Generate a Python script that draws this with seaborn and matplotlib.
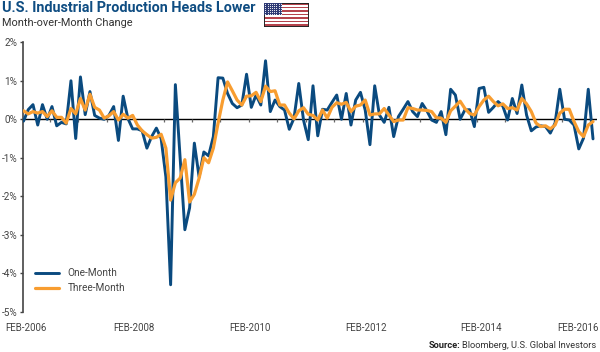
import numpy as np
import pandas as pd
import matplotlib
matplotlib.use("Agg")
import matplotlib.pyplot as plt
import matplotlib.transforms as mtrans
import seaborn as sns

one_month = [-0.05,0.25,0.38,-0.15,0.38,0.0,0.33,-0.17,-0.08,-0.12,1.0,-0.5,1.1,0.12,0.72,0.1,0.03,0.0,0.1,0.33,
 -0.55,0.6,0.02,-0.25,-0.25,-0.3,-0.75,-0.45,-0.23,-0.5,-1.5,-4.3,0.9,-1.0,-2.87,-2.3,-0.62,-1.5,-0.85,-0.95,
 -0.45,1.08,1.07,0.67,0.41,0.3,0.37,1.17,0.31,0.63,0.37,1.52,0.2,0.5,0.33,0.24,-0.26,0.03,0.93,-0.02,
 -0.53,0.87,-0.43,0.26,0.24,0.44,0.63,0.0,0.67,-0.15,0.5,0.7,0.24,-0.66,0.87,0.11,-0.08,0.31,-0.45,0.07,
 0.26,0.46,0.2,0.07,0.41,0.22,-0.02,-0.08,0.2,-0.4,0.78,0.63,0.0,0.24,0.25,-0.19,0.8,0.83,0.18,0.31,
 0.46,0.34,-0.02,0.54,0.15,0.89,0.11,-0.3,-0.2,-0.17,-0.19,-0.36,-0.1,0.78,0.0,-0.02,-0.15,-0.77,-0.49,0.78,-0.51]
three_month = [0.22,0.14,0.2,0.16,0.2,0.07,0.22,0.05,0.05,-0.1,0.28,0.14,0.54,0.24,0.65,0.31,0.24,0.03,0.09,0.2,
 -0.02,0.13,0.03,0.1,-0.15,-0.3,-0.4,-0.49,-0.47,-0.39,-0.75,-2.1,-1.65,-1.53,-1.05,-2.15,-1.95,-1.53,-1.0,-1.13,
 -0.75,-0.1,0.5,0.97,0.74,0.5,0.37,0.6,0.61,0.7,0.46,0.86,0.72,0.74,0.37,0.37,0.16,0.01,0.22,0.3,
 0.13,0.1,-0.02,0.24,0.03,0.31,0.43,0.39,0.44,0.2,0.34,0.37,0.5,0.11,0.14,0.14,0.28,0.11,-0.06,-0.02,
 -0.02,0.3,0.28,0.24,0.24,0.23,0.2,0.04,0.03,-0.08,0.22,0.34,0.47,0.28,0.15,0.11,0.33,0.5,0.6,0.46,
 0.35,0.4,0.28,0.3,0.24,0.54,0.4,0.2,-0.1,-0.19,-0.17,-0.25,-0.15,0.16,0.26,0.26,-0.06,-0.32,-0.45,-0.15,-0.06]
y_ticks = [2,1,0,-1,-2,-3,-4,-5]
y_labels = ['2%','1%','0%','-1%','-2%','-3%','-4%','-5%']
x_tick_months = [0,24,48,72,96,120]
x_labels = ['FEB-2006','FEB-2008','FEB-2010','FEB-2012','FEB-2014','FEB-2016']
x_label_shift_px = [2.5,-4,-1,1,2,-15]
BLUE = '#0a4a7f'; ORANGE = '#f89d30'; GRAY = '#444444'

sns.set_theme(style='white')
plt.rcParams['font.family'] = ['Roboto', 'DejaVu Sans']

months = np.arange(len(one_month))
df = pd.DataFrame({'m': np.r_[months, months],
                   'v': one_month + three_month,
                   's': ['One-Month']*len(months) + ['Three-Month']*len(months)})

W, H = 600, 352
fig = plt.figure(figsize=(6, 3.52), dpi=100, facecolor='white')
ax = fig.add_axes([22.5/W, 1-311.7/H, (597-22.5)/W, (311.7-42.3)/H])
ax.axhline(0, color='black', lw=1.0, zorder=1)
for k in range(0, 21):
    ax.plot([k*6-0.5]*2, [0, -0.06], color='#666666', lw=0.9, zorder=1, solid_capstyle='butt')
sns.lineplot(data=df, x='m', y='v', hue='s', palette=[BLUE, ORANGE], ax=ax, zorder=3, linewidth=2.0)
series_lines = [l for l in ax.get_lines() if len(l.get_xdata()) == len(months)]
series_lines[0].set_linewidth(2.1)
series_lines[1].set_linewidth(2.3)
ax.set_xlim(-0.21, 120.84)
ax.set_ylim(-5, 2)
ax.set_xlabel(''); ax.set_ylabel('')
for s in ['top','right','bottom']:
    ax.spines[s].set_visible(False)
ax.spines['left'].set_color(GRAY); ax.spines['left'].set_linewidth(1.2)
ax.set_yticks(y_ticks); ax.set_yticklabels(y_labels, fontsize=7.2, color=GRAY)
ax.tick_params(axis='y', left=True, length=2.2, width=1, color=GRAY, pad=1.5)
ax.set_xticks(x_tick_months); ax.set_xticklabels(x_labels, fontsize=7.0, color=GRAY)
ax.tick_params(axis='x', bottom=False, length=0, pad=8)
for lab, dx in zip(ax.get_xticklabels(), x_label_shift_px):
    lab.set_transform(lab.get_transform() + mtrans.Affine2D().translate(dx, 0))
handles, labels = ax.get_legend_handles_labels()
leg = ax.legend(handles, labels, loc='lower left', bbox_to_anchor=((34.5-22.5)/(597-22.5), (311.7-293)/(311.7-42.3)),
          frameon=False, fontsize=7.2, labelcolor=GRAY, handlelength=2.4, handletextpad=0.9,
          labelspacing=0.45, borderpad=0, borderaxespad=0)
for h, w in zip(leg.get_lines(), [2.1, 2.3]):
    h.set_linewidth(w)

fig.text(2/W, 1-8.5/H, 'U.S. Industrial Production Heads Lower', fontsize=10.35, fontweight='bold',
         color='#0f4d82', va='center', ha='left')
fig.text(2/W, 1-23.5/H, 'Month-over-Month Change', fontsize=7.9, color='#333333', va='center', ha='left')
src = 'Bloomberg, U.S. Global Investors'
fig.text(596/W, 1-345/H, src, fontsize=6.65, color='#333333', va='center', ha='right')
fig.text(460.5/W, 1-345/H, 'Source:', fontsize=6.65, fontweight='bold', color='#222222', va='center', ha='right')

# flag
fax = fig.add_axes([264/W, 1-26/H, 44/W, 23/H])
stripe_idx = np.arange(13)
sns.barplot(x=np.ones(13), y=stripe_idx, orient='h', ax=fax, width=1, dodge=False,
            palette=['#c8303c' if i % 2 == 0 else 'white' for i in stripe_idx], hue=stripe_idx, legend=False,
            linewidth=0, native_scale=False)
fax.set_xlim(0,1); fax.set_ylim(12.5,-0.5)
fax.fill_between([0,0.41],[-0.5,-0.5],[6.5,6.5], color='#2e3a74', zorder=3, lw=0)
sx, sy = np.meshgrid(np.linspace(0.03,0.38,8), np.linspace(0.2,5.8,6))
fax.scatter(sx.ravel(), sy.ravel(), s=0.6, color='white', zorder=4, lw=0)
fax.set_xticks([]); fax.set_yticks([]); fax.set_xlabel(''); fax.set_ylabel('')
for s in fax.spines.values():
    s.set_visible(True); s.set_color('#222222'); s.set_linewidth(0.7)

fig.savefig('out.png', dpi=100, facecolor='white')
